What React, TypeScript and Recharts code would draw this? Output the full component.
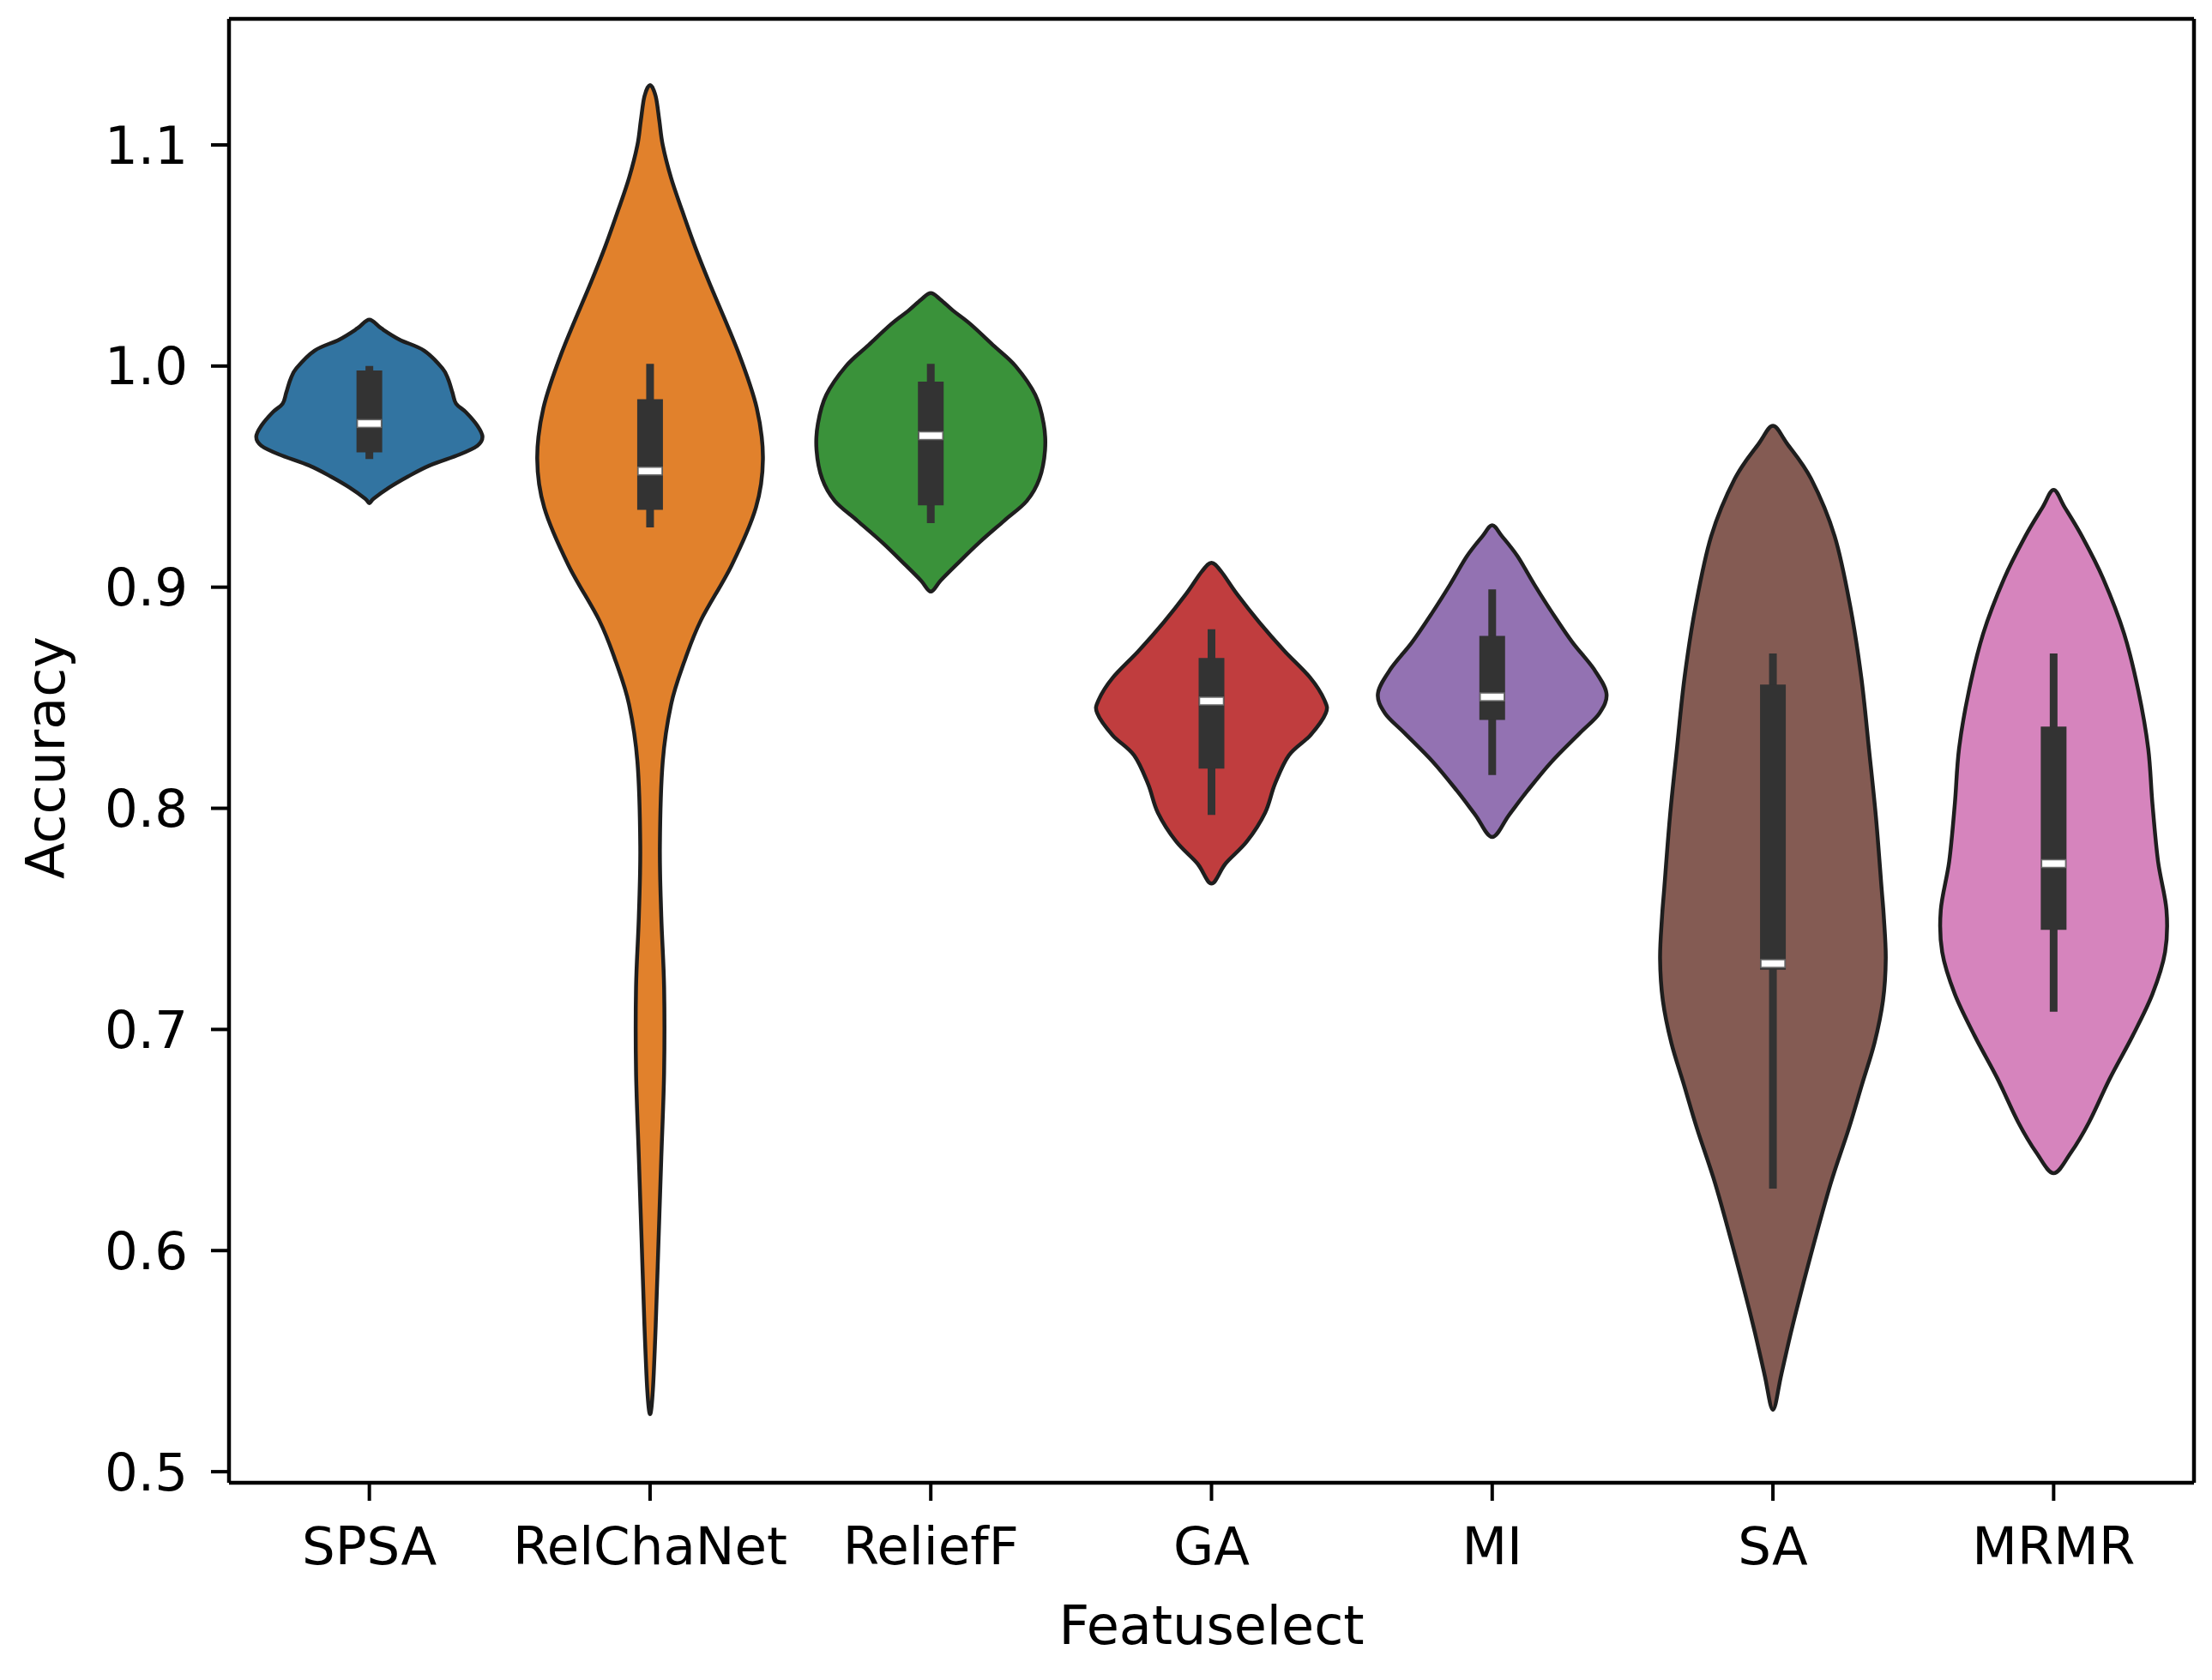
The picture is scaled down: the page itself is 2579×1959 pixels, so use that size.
import React from 'react';
import { ComposedChart, Scatter, XAxis, YAxis, ReferenceLine } from 'recharts';

const categories = ['SPSA', 'RelChaNet', 'ReliefF', 'GA', 'MI', 'SA', 'MRMR'];
const colors = ['#3274a1', '#e1812c', '#3a923a', '#c03d3e', '#9372b2', '#845b53', '#d684bd'];
const yTicks = [0.5, 0.6, 0.7, 0.8, 0.9, 1.0, 1.1];
const xDomain = [-0.5, 6.5];
const yDomain = [0.495, 1.157];

// violin outlines: accuracy levels (top to bottom) and half widths (category units)
const spsaLevels = [1.021, 1.017, 1.012, 1.007, 0.999, 0.994, 0.988, 0.983, 0.979, 0.973, 0.968, 0.964, 0.960, 0.955, 0.950, 0.945, 0.940, 0.938];
const spsaWidths = [0, 0.043, 0.107, 0.195, 0.26, 0.281, 0.296, 0.309, 0.345, 0.385, 0.403, 0.385, 0.321, 0.214, 0.137, 0.07, 0.015, 0];

const relLevels = [1.127, 1.122, 1.111, 1.1, 1.085, 1.07, 1.054, 1.038, 1.006, 0.981, 0.958, 0.936, 0.91, 0.885, 0.866, 0.847, 0.821, 0.783, 0.751, 0.719, 0.681, 0.642, 0.604, 0.566, 0.537, 0.526];
const relWidths = [0, 0.02, 0.033, 0.045, 0.075, 0.115, 0.16, 0.21, 0.315, 0.38, 0.402, 0.377, 0.291, 0.181, 0.121, 0.075, 0.045, 0.035, 0.04, 0.05, 0.05, 0.04, 0.03, 0.02, 0.01, 0];

const reliefLevels = [1.033, 1.03, 1.025, 1.019, 1.009, 1.0, 0.987, 0.974, 0.962, 0.949, 0.939, 0.93, 0.92, 0.91, 0.903, 0.898];
const reliefWidths = [0, 0.035, 0.08, 0.141, 0.226, 0.302, 0.372, 0.402, 0.407, 0.387, 0.342, 0.261, 0.171, 0.09, 0.035, 0];

const gaLevels = [0.911, 0.907, 0.897, 0.884, 0.871, 0.859, 0.849, 0.843, 0.833, 0.824, 0.811, 0.798, 0.785, 0.775, 0.766];
const gaWidths = [0, 0.035, 0.09, 0.171, 0.261, 0.352, 0.402, 0.407, 0.352, 0.276, 0.226, 0.191, 0.126, 0.05, 0];

const miLevels = [0.928, 0.923, 0.914, 0.901, 0.888, 0.875, 0.863, 0.852, 0.843, 0.834, 0.821, 0.808, 0.797, 0.787];
const miWidths = [0, 0.035, 0.09, 0.151, 0.216, 0.286, 0.362, 0.407, 0.382, 0.312, 0.211, 0.126, 0.06, 0];

const saLevels = [0.973, 0.965, 0.949, 0.923, 0.891, 0.859, 0.827, 0.796, 0.764, 0.751, 0.732, 0.713, 0.694, 0.675, 0.655, 0.63, 0.598, 0.566, 0.544, 0.528];
const saWidths = [0, 0.05, 0.136, 0.22, 0.276, 0.315, 0.342, 0.367, 0.387, 0.395, 0.402, 0.392, 0.362, 0.317, 0.27, 0.205, 0.135, 0.07, 0.03, 0];

const mrmrLevels = [0.944, 0.936, 0.923, 0.904, 0.879, 0.853, 0.827, 0.802, 0.776, 0.754, 0.735, 0.716, 0.697, 0.678, 0.658, 0.644, 0.635];
const mrmrWidths = [0, 0.04, 0.101, 0.176, 0.251, 0.302, 0.337, 0.352, 0.372, 0.402, 0.397, 0.352, 0.281, 0.201, 0.126, 0.06, 0];

// inner box statistics
const whiskerLow = [0.958, 0.927, 0.929, 0.797, 0.815, 0.628, 0.708];
const whiskerHigh = [1.0, 1.001, 1.001, 0.881, 0.899, 0.87, 0.87];
const q1 = [0.961, 0.935, 0.937, 0.818, 0.84, 0.727, 0.745];
const q3 = [0.998, 0.985, 0.993, 0.868, 0.878, 0.856, 0.837];
const medians = [0.974, 0.9525, 0.9685, 0.8485, 0.8504, 0.7298, 0.775];

const profiles: [number[], number[]][] = [
  [spsaLevels, spsaWidths],
  [relLevels, relWidths],
  [reliefLevels, reliefWidths],
  [gaLevels, gaWidths],
  [miLevels, miWidths],
  [saLevels, saWidths],
  [mrmrLevels, mrmrWidths],
];

function outline(i: number, levels: number[], widths: number[]) {
  const right = levels.map((y, k) => ({ x: i + widths[k], y }));
  const left = levels
    .map((y, k) => ({ x: i - widths[k], y }))
    .slice(1, -1)
    .reverse();
  return [...right, ...left];
}

const violinData = profiles.map(([l, w], i) => outline(i, l, w));
const xTicks = categories.map((_, i) => i);

// closed Catmull-Rom curve factory (passes through every outline point)
function smoothClosed(context: any) {
  let pts: number[][] = [];
  return {
    areaStart() {},
    areaEnd() {},
    lineStart() {
      pts = [];
    },
    point(x: number, y: number) {
      pts.push([+x, +y]);
    },
    lineEnd() {
      const n = pts.length;
      if (n < 3) return;
      context.moveTo(pts[0][0], pts[0][1]);
      for (let i = 0; i < n; i++) {
        const p0 = pts[(i - 1 + n) % n];
        const p1 = pts[i];
        const p2 = pts[(i + 1) % n];
        const p3 = pts[(i + 2) % n];
        context.bezierCurveTo(
          p1[0] + (p2[0] - p0[0]) / 6,
          p1[1] + (p2[1] - p0[1]) / 6,
          p2[0] - (p3[0] - p1[0]) / 6,
          p2[1] - (p3[1] - p1[1]) / 6,
          p2[0],
          p2[1]
        );
      }
      context.closePath();
    },
  };
}

const FONT = 'DejaVu Sans';
const Nothing = () => <g />;

const MedianMark = (p: any) => (
  <rect x={p.cx - 14} y={p.cy - 4.5} width={28} height={9} fill="#ffffff" stroke="#6a6a6a" strokeWidth={1.5} />
);

const XTitle = (p: any) => {
  const vb = p && p.viewBox ? p.viewBox : { x: 267, y: 1729, width: 2291, height: 230 };
  return (
    <text x={vb.x + vb.width / 2} y={vb.y + 188} textAnchor="middle" fontSize={62} fontFamily={FONT} fill="#000">
      Featuselect
    </text>
  );
};

const YTitle = (p: any) => {
  const vb = p && p.viewBox ? p.viewBox : { x: 0, y: 22, width: 267, height: 1707 };
  const cy = vb.y + vb.height / 2 + 8;
  const bx = 75;
  return (
    <text x={bx} y={cy} transform={`rotate(-90, ${bx}, ${cy})`} textAnchor="middle" fontSize={62} fontFamily={FONT} fill="#000">
      Accuracy
    </text>
  );
};

export default function App() {
  return (
    <div style={{ position: 'absolute', left: 0, top: 0, width: 2579, height: 1959, background: '#fff' }}>
      <ComposedChart width={2579} height={1959} margin={{ top: 22, right: 21, bottom: 0, left: 0 }}>
        <XAxis
          dataKey="x"
          type="number"
          domain={xDomain}
          allowDataOverflow
          ticks={xTicks}
          interval={0}
          tickFormatter={(v: number) => categories[Math.round(v)]}
          height={230}
          tickSize={21}
          tickMargin={31}
          axisLine={{ stroke: '#000', strokeWidth: 4.5 }}
          tickLine={{ stroke: '#000', strokeWidth: 4 }}
          tick={{ fill: '#000', fontSize: 61, fontFamily: FONT }}
          label={{ value: 'Featuselect', content: XTitle }}
        />
        <YAxis
          dataKey="y"
          type="number"
          domain={yDomain}
          allowDataOverflow
          ticks={yTicks}
          interval={0}
          tickFormatter={(v: number) => v.toFixed(1)}
          width={267}
          tickSize={21}
          tickMargin={27}
          axisLine={{ stroke: '#000', strokeWidth: 4.5 }}
          tickLine={{ stroke: '#000', strokeWidth: 4 }}
          tick={{ fill: '#000', fontSize: 61, fontFamily: FONT }}
          label={{ value: 'Accuracy', content: YTitle }}
        />
        <ReferenceLine y={yDomain[1]} stroke="#000" strokeWidth={4.5} ifOverflow="visible" />
        <ReferenceLine x={xDomain[1]} stroke="#000" strokeWidth={4.5} ifOverflow="visible" />
        {violinData.map((d, i) => (
          <Scatter
            key={'violin' + i}
            data={d}
            fill={colors[i]}
            line={{ fill: colors[i], stroke: '#1e1e1e', strokeWidth: 4.5 }}
            lineType="joint"
            lineJointType={smoothClosed as any}
            shape={Nothing}
            legendType="none"
            isAnimationActive={false}
          />
        ))}
        {categories.map((_, i) => (
          <Scatter
            key={'whisker' + i}
            data={[{ x: i, y: whiskerLow[i] }, { x: i, y: whiskerHigh[i] }]}
            fill="#333333"
            line={{ stroke: '#333333', strokeWidth: 9, fill: 'none' }}
            lineType="joint"
            lineJointType="linear"
            shape={Nothing}
            legendType="none"
            isAnimationActive={false}
          />
        ))}
        {categories.map((_, i) => (
          <Scatter
            key={'box' + i}
            data={[{ x: i, y: q1[i] }, { x: i, y: q3[i] }]}
            fill="#333333"
            line={{ stroke: '#333333', strokeWidth: 30, fill: 'none' }}
            lineType="joint"
            lineJointType="linear"
            shape={Nothing}
            legendType="none"
            isAnimationActive={false}
          />
        ))}
        {categories.map((_, i) => (
          <Scatter
            key={'median' + i}
            data={[{ x: i, y: medians[i] }]}
            fill="#ffffff"
            shape={MedianMark}
            legendType="none"
            isAnimationActive={false}
          />
        ))}
      </ComposedChart>
    </div>
  );
}
